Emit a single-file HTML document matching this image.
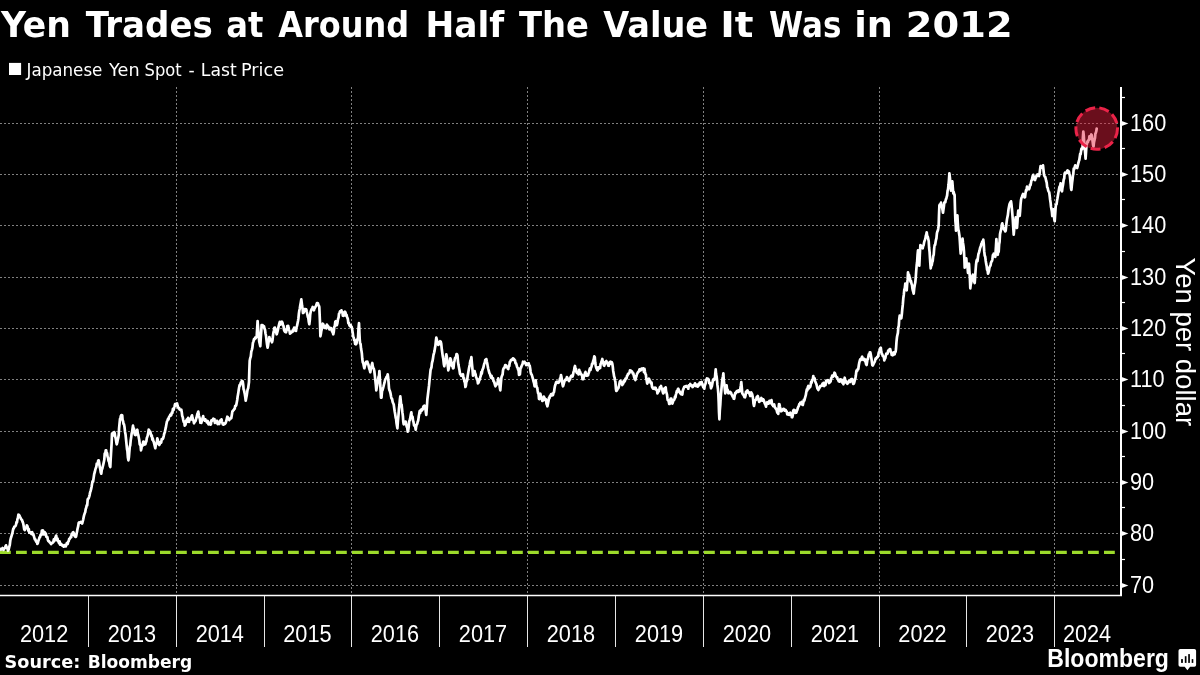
<!DOCTYPE html>
<html lang="en"><head><meta charset="utf-8"><title>Yen Trades at Around Half The Value It Was in 2012</title>
<style>
html,body{margin:0;padding:0;background:#000;}
body{width:1200px;height:675px;overflow:hidden;position:relative;}
svg{position:absolute;left:0;top:0;display:block;will-change:transform;}
.title{font-family:"DejaVu Sans","Liberation Sans",sans-serif;font-weight:bold;font-size:35.3px;fill:#fff;}
.legend{font-family:"DejaVu Sans","Liberation Sans",sans-serif;font-size:16.9px;fill:#fff;}
.num{font-family:"Liberation Sans",sans-serif;font-size:23px;fill:#fff;}
.ytitle{font-family:"Liberation Sans",sans-serif;font-size:27.9px;fill:#fff;}
.src{font-family:"DejaVu Sans","Liberation Sans",sans-serif;font-weight:bold;font-size:17.3px;fill:#fff;}
.logo{font-family:"Liberation Sans",sans-serif;font-weight:bold;font-size:25px;fill:#fff;}
</style></head><body>
<svg width="1200" height="675" viewBox="0 0 1200 675">
<rect x="0" y="0" width="1200" height="675" fill="#000"/>
<text class="title" y="36.9"><tspan x="0.91" textLength="69.97" lengthAdjust="spacingAndGlyphs">Yen</tspan> <tspan x="85.73" textLength="127.19" lengthAdjust="spacingAndGlyphs">Trades</tspan> <tspan x="226.32" textLength="37.12" lengthAdjust="spacingAndGlyphs">at</tspan> <tspan x="278.24" textLength="130.84" lengthAdjust="spacingAndGlyphs">Around</tspan> <tspan x="425.54" textLength="78.74" lengthAdjust="spacingAndGlyphs">Half</tspan> <tspan x="518.93" textLength="70.00" lengthAdjust="spacingAndGlyphs">The</tspan> <tspan x="603.13" textLength="104.98" lengthAdjust="spacingAndGlyphs">Value</tspan> <tspan x="720.29" textLength="33.33" lengthAdjust="spacingAndGlyphs">It</tspan> <tspan x="768.97" textLength="72.40" lengthAdjust="spacingAndGlyphs">Was</tspan> <tspan x="854.32" textLength="38.62" lengthAdjust="spacingAndGlyphs">in</tspan> <tspan x="905.87" textLength="106.78" lengthAdjust="spacingAndGlyphs">2012</tspan></text>
<rect x="9" y="62.9" width="12.1" height="12.1" fill="#fff"/>
<text class="legend" y="75.75"><tspan x="26.47" textLength="75.93" lengthAdjust="spacingAndGlyphs">Japanese</tspan> <tspan x="109.14" textLength="30.47" lengthAdjust="spacingAndGlyphs">Yen</tspan> <tspan x="144.52" textLength="37.13" lengthAdjust="spacingAndGlyphs">Spot</tspan> <tspan x="188.49" textLength="6.17" lengthAdjust="spacingAndGlyphs">-</tspan> <tspan x="200.81" textLength="35.85" lengthAdjust="spacingAndGlyphs">Last</tspan> <tspan x="241.02" textLength="43.02" lengthAdjust="spacingAndGlyphs">Price</tspan></text>
<g stroke="#808080" stroke-width="1" stroke-dasharray="2 2" fill="none" shape-rendering="crispEdges">
<line x1="0" y1="123.5" x2="1121" y2="123.5"/>
<line x1="0" y1="174.5" x2="1121" y2="174.5"/>
<line x1="0" y1="225.5" x2="1121" y2="225.5"/>
<line x1="0" y1="277.5" x2="1121" y2="277.5"/>
<line x1="0" y1="328.5" x2="1121" y2="328.5"/>
<line x1="0" y1="379.5" x2="1121" y2="379.5"/>
<line x1="0" y1="431.5" x2="1121" y2="431.5"/>
<line x1="0" y1="482.5" x2="1121" y2="482.5"/>
<line x1="0" y1="533.5" x2="1121" y2="533.5"/>
<line x1="0" y1="585.5" x2="1121" y2="585.5"/>
<line x1="176.5" y1="87" x2="176.5" y2="595.5"/>
<line x1="351.5" y1="87" x2="351.5" y2="595.5"/>
<line x1="527.5" y1="87" x2="527.5" y2="595.5"/>
<line x1="703.5" y1="87" x2="703.5" y2="595.5"/>
<line x1="879.5" y1="87" x2="879.5" y2="595.5"/>
<line x1="1054.5" y1="87" x2="1054.5" y2="595.5"/>
</g>
<line x1="0" y1="552.3" x2="1121" y2="552.3" stroke="#9cda2b" stroke-width="3.2" stroke-dasharray="10.8 5.2"/>
<path d="M0.0,549.3 L0.5,549.0 L1.0,549.7 L1.5,548.8 L2.0,548.7 L2.5,548.0 L3.0,548.6 L3.5,549.9 L4.0,548.7 L4.5,548.3 L5.0,548.0 L5.5,546.4 L6.0,545.3 L6.5,547.0 L7.0,548.2 L7.5,547.7 L8.0,550.7 L8.4,550.2 L8.9,548.5 L9.3,546.7 L9.8,544.9 L10.3,540.5 L10.8,538.2 L11.3,536.8 L11.8,535.0 L12.3,533.5 L12.8,530.9 L13.3,528.7 L13.8,528.4 L14.4,526.5 L14.9,526.6 L15.5,525.9 L16.0,524.7 L16.5,522.0 L17.0,522.4 L17.4,519.3 L17.9,517.9 L18.4,514.7 L18.9,514.8 L19.4,515.5 L19.9,516.6 L20.5,517.6 L21.0,519.1 L21.5,519.5 L22.0,520.0 L22.5,521.6 L23.1,523.0 L23.6,525.5 L24.2,529.2 L24.7,530.0 L25.2,528.4 L25.7,528.6 L26.3,528.0 L26.8,525.3 L27.3,526.0 L27.8,527.7 L28.3,530.7 L28.8,529.0 L29.3,532.7 L29.8,532.5 L30.3,532.9 L30.8,532.4 L31.3,533.8 L31.8,533.5 L32.3,532.2 L32.8,534.7 L33.3,534.0 L33.8,536.0 L34.3,537.6 L34.8,539.4 L35.3,539.3 L35.8,540.8 L36.3,541.8 L36.8,541.5 L37.3,544.0 L37.8,543.3 L38.4,540.7 L38.9,539.5 L39.5,537.4 L40.0,537.3 L40.5,535.1 L41.0,534.4 L41.4,535.0 L41.9,530.5 L42.4,531.3 L42.9,530.4 L43.4,532.7 L43.8,534.4 L44.3,534.1 L44.8,532.2 L45.3,534.7 L45.8,533.4 L46.3,536.8 L46.9,536.6 L47.4,537.1 L47.9,540.1 L48.4,541.1 L49.0,541.1 L49.5,542.1 L50.0,542.7 L50.5,543.0 L51.1,544.1 L51.6,543.0 L52.2,542.8 L52.8,542.7 L53.3,542.0 L53.8,539.4 L54.3,541.2 L54.7,539.8 L55.2,538.3 L55.7,536.7 L56.2,535.6 L56.6,537.9 L57.1,540.3 L57.5,538.6 L58.0,541.3 L58.5,541.6 L59.0,543.2 L59.6,541.3 L60.1,544.7 L60.6,544.1 L61.1,543.8 L61.7,544.7 L62.2,545.5 L62.7,545.3 L63.2,545.6 L63.7,546.7 L64.3,545.1 L64.8,545.4 L65.3,546.0 L65.8,546.4 L66.3,544.7 L66.8,543.1 L67.2,544.3 L67.7,544.1 L68.2,541.5 L68.7,541.3 L69.2,538.8 L69.7,539.0 L70.2,537.9 L70.7,536.7 L71.2,537.3 L71.7,533.8 L72.2,535.0 L72.7,532.7 L73.2,532.1 L73.8,533.2 L74.3,535.3 L74.9,536.5 L75.5,536.9 L76.0,536.7 L76.5,534.2 L77.1,531.2 L77.6,528.5 L78.2,526.1 L78.7,522.7 L79.2,522.3 L79.7,522.6 L80.2,522.7 L80.7,522.0 L81.2,522.6 L81.7,522.2 L82.2,523.5 L82.7,521.3 L83.2,519.6 L83.7,516.9 L84.2,514.9 L84.7,513.3 L85.2,512.2 L85.7,509.0 L86.2,507.7 L86.7,505.3 L87.2,505.3 L87.7,499.4 L88.2,498.7 L88.7,498.2 L89.2,496.6 L89.7,494.6 L90.2,492.1 L90.7,490.7 L91.1,489.2 L91.6,486.7 L92.0,484.3 L92.5,481.3 L93.1,481.6 L93.7,477.4 L94.2,474.0 L94.8,472.0 L95.3,469.7 L95.8,468.1 L96.3,467.0 L96.8,463.5 L97.2,463.8 L97.7,464.0 L98.2,460.5 L98.7,460.3 L99.2,462.9 L99.7,466.6 L100.3,469.2 L100.8,472.5 L101.3,473.7 L101.8,469.6 L102.3,468.6 L102.8,466.3 L103.3,464.3 L103.8,462.1 L104.3,459.8 L104.7,453.7 L105.2,454.2 L105.7,450.3 L106.2,450.3 L106.6,453.9 L107.1,453.2 L107.5,456.4 L108.0,457.7 L108.5,460.8 L108.9,461.3 L109.4,463.5 L109.8,465.9 L110.3,467.0 L110.7,458.8 L111.2,450.3 L111.6,443.6 L112.0,433.7 L112.5,434.6 L113.1,433.1 L113.6,435.5 L114.2,432.0 L114.7,433.0 L115.2,436.7 L115.7,438.4 L116.2,441.6 L116.7,444.3 L117.2,442.7 L117.7,439.9 L118.2,438.0 L118.7,435.0 L119.1,428.1 L119.6,422.8 L120.0,419.0 L120.4,418.6 L120.8,416.0 L121.3,415.0 L121.7,415.0 L122.2,415.4 L122.6,420.0 L123.1,421.3 L123.5,423.9 L124.0,424.3 L124.5,427.0 L125.0,431.7 L125.5,434.2 L126.0,439.0 L126.5,444.0 L127.0,449.1 L127.4,450.9 L127.9,457.6 L128.4,460.3 L128.9,457.3 L129.3,452.1 L129.8,446.3 L130.2,445.7 L130.7,440.3 L131.2,437.3 L131.6,433.9 L132.1,431.9 L132.5,429.0 L133.0,425.7 L133.5,429.1 L133.9,428.4 L134.4,432.4 L134.8,434.6 L135.3,435.0 L135.8,435.1 L136.3,432.2 L136.8,430.3 L137.3,429.7 L137.8,433.4 L138.3,435.1 L138.8,437.8 L139.3,440.3 L139.7,444.2 L140.2,445.0 L140.6,445.6 L141.0,450.3 L141.5,448.2 L141.9,445.0 L142.4,446.0 L142.8,443.7 L143.3,441.7 L143.8,441.7 L144.3,443.0 L144.8,444.5 L145.3,444.3 L145.8,442.3 L146.3,441.5 L146.8,438.0 L147.2,437.0 L147.7,435.4 L148.2,433.4 L148.7,429.7 L149.2,430.3 L149.7,433.2 L150.3,431.8 L150.8,433.9 L151.3,436.3 L151.8,435.4 L152.3,439.5 L152.7,438.3 L153.2,440.6 L153.7,441.7 L154.2,443.7 L154.8,446.1 L155.3,448.3 L155.8,445.2 L156.3,443.5 L156.8,442.6 L157.3,438.3 L157.8,440.0 L158.3,442.2 L158.8,444.3 L159.3,445.0 L159.8,443.9 L160.3,442.0 L160.8,441.9 L161.2,442.6 L161.7,439.1 L162.2,439.3 L162.7,439.0 L163.2,438.1 L163.7,436.1 L164.3,433.4 L164.8,432.4 L165.3,429.7 L165.8,427.7 L166.4,424.2 L166.9,421.7 L167.5,420.5 L168.0,419.0 L168.5,419.4 L168.9,417.3 L169.4,416.4 L169.9,415.9 L170.4,414.6 L170.8,415.5 L171.3,415.0 L171.8,412.5 L172.4,412.7 L172.9,408.8 L173.5,410.0 L174.0,408.3 L174.5,406.6 L175.0,404.2 L175.5,405.8 L176.0,404.0 L176.5,404.6 L177.1,403.5 L177.6,405.7 L178.2,407.7 L178.7,408.3 L179.2,408.1 L179.7,409.6 L180.3,409.9 L180.8,410.1 L181.3,409.7 L181.8,412.5 L182.2,415.9 L182.7,417.0 L183.2,419.8 L183.7,421.8 L184.2,421.4 L184.7,425.7 L185.2,425.1 L185.7,424.0 L186.2,420.9 L186.7,419.7 L187.2,419.2 L187.6,421.6 L188.1,417.9 L188.6,420.2 L189.1,421.9 L189.5,418.8 L190.0,419.7 L190.5,419.3 L191.0,419.4 L191.5,416.3 L192.0,415.3 L192.5,417.9 L193.0,420.2 L193.5,420.4 L194.0,423.3 L194.5,422.2 L195.0,421.6 L195.5,421.1 L196.0,419.3 L196.5,417.7 L196.9,416.0 L197.4,413.7 L197.8,412.8 L198.3,411.6 L198.8,415.3 L199.4,417.3 L199.9,419.1 L200.4,422.7 L200.9,420.9 L201.3,423.0 L201.8,421.0 L202.2,419.6 L202.7,418.0 L203.2,416.1 L203.7,419.1 L204.3,419.3 L204.8,420.7 L205.3,419.3 L205.8,420.6 L206.3,420.9 L206.8,422.4 L207.3,422.7 L207.8,421.0 L208.4,424.3 L208.9,423.8 L209.5,423.0 L210.0,424.0 L210.5,424.6 L210.9,424.3 L211.4,420.3 L211.9,420.3 L212.4,420.5 L212.8,419.6 L213.3,418.7 L213.8,419.0 L214.4,419.0 L214.9,422.8 L215.5,422.4 L216.0,422.0 L216.5,420.9 L217.1,420.9 L217.6,424.1 L218.2,423.5 L218.7,422.7 L219.2,424.1 L219.6,422.7 L220.1,420.6 L220.5,421.4 L221.0,420.7 L221.5,419.3 L221.9,421.6 L222.4,423.0 L222.8,424.4 L223.3,424.7 L223.8,423.6 L224.3,423.8 L224.7,424.0 L225.2,423.5 L225.7,422.7 L226.2,421.3 L226.8,418.9 L227.3,416.7 L227.8,417.2 L228.3,419.1 L228.8,419.2 L229.3,420.0 L229.8,418.7 L230.3,418.4 L230.8,418.5 L231.3,418.0 L231.9,414.5 L232.4,411.3 L232.9,410.9 L233.3,410.3 L233.8,409.9 L234.2,409.1 L234.7,408.7 L235.2,405.9 L235.7,406.1 L236.2,405.3 L236.7,402.7 L237.2,400.0 L237.7,396.2 L238.2,393.6 L238.7,390.0 L239.1,387.5 L239.6,385.1 L240.0,385.6 L240.4,384.0 L240.9,382.4 L241.4,383.4 L241.8,380.9 L242.3,381.3 L242.7,381.3 L243.2,384.6 L243.6,389.4 L244.0,390.0 L244.4,392.3 L244.8,394.0 L245.3,397.3 L245.7,400.7 L246.2,398.1 L246.8,394.9 L247.3,391.3 L247.7,389.2 L248.2,388.1 L248.6,385.0 L249.0,382.0 L249.3,371.3 L249.7,360.7 L250.2,358.3 L250.8,356.4 L251.3,351.7 L251.8,350.1 L252.4,347.6 L252.9,343.0 L253.5,341.4 L254.0,339.0 L254.5,339.2 L255.1,337.6 L255.6,338.4 L256.2,337.4 L256.7,336.3 L257.1,329.6 L257.6,321.0 L258.1,328.1 L258.7,335.7 L259.2,341.4 L259.8,344.0 L260.3,346.3 L260.7,339.0 L261.2,332.2 L261.6,325.0 L262.1,327.5 L262.6,325.2 L263.0,326.7 L263.5,327.0 L264.0,326.3 L264.5,328.7 L265.0,329.8 L265.5,333.5 L266.0,335.7 L266.5,340.1 L267.1,344.8 L267.6,347.7 L268.0,345.8 L268.5,342.4 L268.9,340.5 L269.3,337.0 L269.8,338.6 L270.4,339.3 L270.9,340.2 L271.5,341.0 L272.0,342.3 L272.5,340.1 L273.0,335.4 L273.4,332.9 L273.9,330.6 L274.4,327.7 L274.9,327.6 L275.3,329.9 L275.8,329.7 L276.2,332.3 L276.7,334.3 L277.2,332.7 L277.7,330.6 L278.3,327.9 L278.8,325.6 L279.3,323.7 L279.8,321.9 L280.4,324.7 L280.9,323.0 L281.5,323.2 L282.0,321.7 L282.5,322.8 L283.0,325.5 L283.5,325.9 L284.0,329.7 L284.5,331.1 L285.0,331.9 L285.5,329.8 L286.0,332.3 L286.4,330.7 L286.9,329.9 L287.3,326.0 L287.7,326.3 L288.2,326.0 L288.6,328.2 L289.1,330.1 L289.5,330.8 L290.0,333.7 L290.5,333.1 L291.1,332.6 L291.6,332.3 L292.2,331.7 L292.7,330.3 L293.2,331.3 L293.7,330.5 L294.2,327.5 L294.7,328.3 L295.1,328.7 L295.6,329.0 L296.0,331.0 L296.5,327.4 L297.0,325.9 L297.5,323.5 L298.0,321.0 L298.4,318.5 L298.9,313.4 L299.3,310.8 L299.7,309.0 L300.2,305.8 L300.8,302.4 L301.3,299.4 L301.7,302.5 L302.1,306.1 L302.6,308.8 L303.0,313.0 L303.5,312.9 L303.9,311.8 L304.4,310.5 L304.8,309.1 L305.3,309.0 L305.8,310.2 L306.3,309.4 L306.8,312.0 L307.3,314.3 L307.8,316.8 L308.3,317.8 L308.8,322.0 L309.3,324.3 L309.8,320.2 L310.2,314.5 L310.7,311.7 L311.2,310.3 L311.7,309.0 L312.2,308.6 L312.7,307.0 L313.1,308.7 L313.6,309.2 L314.0,310.3 L314.5,308.2 L315.0,307.7 L315.5,306.6 L316.0,306.2 L316.5,304.5 L317.0,303.0 L317.5,303.1 L317.9,303.2 L318.4,305.0 L318.8,305.5 L319.3,307.0 L319.9,320.5 L320.4,336.3 L320.9,333.7 L321.3,330.8 L321.8,328.8 L322.2,326.7 L322.7,323.7 L323.2,324.1 L323.7,327.5 L324.3,325.8 L324.8,328.0 L325.3,327.7 L325.8,327.5 L326.4,328.3 L326.9,324.7 L327.5,325.8 L328.0,326.3 L328.5,326.8 L328.9,327.5 L329.4,329.4 L329.9,327.8 L330.4,329.0 L330.8,328.8 L331.3,328.3 L331.8,330.7 L332.3,331.8 L332.8,332.6 L333.3,334.3 L333.8,331.7 L334.3,326.9 L334.8,326.0 L335.3,321.7 L335.8,321.2 L336.3,322.9 L336.8,325.3 L337.3,323.7 L337.7,321.0 L338.1,318.7 L338.6,317.4 L339.0,313.7 L339.5,313.0 L340.0,311.5 L340.4,311.9 L340.9,311.6 L341.4,310.3 L341.9,312.2 L342.4,311.9 L342.8,315.6 L343.3,315.0 L343.7,315.8 L344.1,313.4 L344.6,312.8 L345.0,311.7 L345.5,312.6 L346.1,315.8 L346.6,315.0 L347.2,317.7 L347.7,318.3 L348.0,320.2 L348.3,323.0 L348.8,322.9 L349.3,324.9 L349.8,326.0 L350.2,325.3 L350.7,325.2 L351.2,327.2 L351.7,327.0 L352.2,329.6 L352.7,332.7 L353.2,336.5 L353.7,337.7 L354.2,340.2 L354.6,339.8 L355.1,343.9 L355.5,343.0 L356.0,344.3 L356.5,343.4 L357.0,340.4 L357.5,339.3 L358.0,337.7 L358.5,328.6 L359.0,323.0 L359.4,332.8 L359.7,339.0 L360.1,343.5 L360.6,344.0 L361.0,348.3 L361.4,350.4 L361.9,353.8 L362.3,359.0 L362.8,362.5 L363.3,363.2 L363.8,365.9 L364.3,368.3 L364.8,366.3 L365.3,364.9 L365.8,362.3 L366.3,361.7 L366.8,362.4 L367.3,361.6 L367.8,363.6 L368.3,364.3 L368.8,366.6 L369.3,368.8 L369.8,370.1 L370.3,372.3 L370.8,369.1 L371.3,367.8 L371.8,364.8 L372.3,363.0 L372.8,366.6 L373.3,367.8 L373.8,368.9 L374.3,371.0 L374.8,375.4 L375.3,379.9 L375.8,384.5 L376.3,390.3 L376.8,387.1 L377.2,384.9 L377.7,381.7 L378.1,379.5 L378.5,376.9 L379.0,375.8 L379.4,371.0 L379.9,379.2 L380.5,388.8 L381.0,397.7 L381.5,397.6 L382.0,391.1 L382.5,390.1 L383.0,388.3 L383.5,386.5 L384.0,384.5 L384.5,382.7 L385.0,380.3 L385.5,378.9 L386.1,378.3 L386.6,376.8 L387.2,376.3 L387.7,374.3 L388.1,377.1 L388.6,382.7 L389.0,388.3 L389.5,390.3 L390.0,391.3 L390.5,393.3 L391.0,396.3 L391.5,398.5 L392.1,398.9 L392.6,401.7 L393.2,403.4 L393.7,404.3 L394.2,408.0 L394.7,411.5 L395.2,414.2 L395.7,417.7 L396.1,418.9 L396.5,423.0 L397.0,426.1 L397.4,428.3 L397.9,421.1 L398.5,414.9 L399.0,408.3 L399.4,405.0 L399.9,399.4 L400.3,396.3 L400.7,399.9 L401.1,404.2 L401.6,404.7 L402.0,408.3 L402.4,412.4 L402.9,416.1 L403.3,421.8 L403.7,424.3 L404.2,424.0 L404.7,423.9 L405.2,421.7 L405.7,421.7 L406.2,424.2 L406.7,426.7 L407.2,427.4 L407.7,431.7 L408.2,430.3 L408.7,426.9 L409.2,421.4 L409.7,420.3 L410.2,418.4 L410.8,414.8 L411.3,412.3 L411.7,414.7 L412.1,416.7 L412.6,416.8 L413.0,420.3 L413.5,422.0 L414.1,425.6 L414.6,425.4 L415.2,426.8 L415.7,429.7 L416.2,426.3 L416.7,424.5 L417.2,424.0 L417.7,421.7 L418.2,420.7 L418.7,416.8 L419.2,413.9 L419.7,411.0 L420.2,412.9 L420.7,410.0 L421.3,409.5 L421.8,410.5 L422.3,409.7 L422.8,409.4 L423.2,407.1 L423.7,406.1 L424.1,406.8 L424.6,405.7 L425.0,408.3 L425.5,409.0 L425.9,412.5 L426.3,415.0 L426.9,406.5 L427.4,399.0 L427.9,395.0 L428.5,390.0 L429.0,385.7 L429.5,380.3 L430.1,374.7 L430.6,369.7 L431.0,368.8 L431.5,367.1 L431.9,363.3 L432.3,361.7 L432.6,360.8 L433.0,358.3 L433.5,354.9 L434.0,353.1 L434.5,351.1 L435.0,347.7 L435.4,345.9 L435.9,340.7 L436.3,337.7 L436.8,339.5 L437.3,341.5 L437.8,341.7 L438.3,345.0 L438.8,344.4 L439.3,343.0 L439.7,343.4 L440.2,341.2 L440.7,341.7 L441.2,343.5 L441.8,349.3 L442.3,353.0 L442.8,356.6 L443.3,359.1 L443.8,363.9 L444.3,366.3 L444.8,363.0 L445.3,359.7 L445.8,357.8 L446.3,354.3 L446.8,356.7 L447.3,361.6 L447.8,366.3 L448.3,370.3 L448.8,368.1 L449.3,364.1 L449.8,361.6 L450.3,358.3 L450.8,359.6 L451.4,362.6 L451.9,366.0 L452.5,365.6 L453.0,368.3 L453.5,368.0 L454.0,362.7 L454.5,360.8 L455.0,358.3 L455.5,357.5 L456.0,357.3 L456.5,354.1 L457.0,354.3 L457.5,355.5 L458.0,361.6 L458.5,365.1 L459.0,367.7 L459.5,370.3 L460.0,373.9 L460.5,373.9 L461.0,375.7 L461.5,375.6 L462.0,375.9 L462.5,375.0 L463.0,374.3 L463.5,378.5 L464.0,378.1 L464.4,381.5 L464.9,382.3 L465.4,387.0 L465.9,385.6 L466.3,382.1 L466.8,381.1 L467.2,380.1 L467.7,375.7 L468.2,373.0 L468.7,370.1 L469.2,367.2 L469.7,365.0 L470.1,362.2 L470.5,360.4 L471.0,359.6 L471.4,357.0 L471.9,363.3 L472.5,369.5 L473.0,375.7 L473.5,374.0 L474.1,373.5 L474.6,371.0 L475.1,373.2 L475.6,374.3 L476.0,376.9 L476.5,377.8 L477.0,379.7 L477.4,379.6 L477.9,383.4 L478.3,383.0 L478.8,382.0 L479.3,379.0 L479.8,379.6 L480.3,377.0 L480.8,375.7 L481.3,372.1 L481.8,373.6 L482.3,370.3 L482.8,369.0 L483.3,367.9 L483.8,365.5 L484.3,363.7 L484.8,362.4 L485.3,359.8 L485.8,361.1 L486.3,359.0 L486.8,361.5 L487.3,363.7 L487.8,366.9 L488.3,369.0 L488.8,370.8 L489.4,373.2 L489.9,373.8 L490.5,375.9 L491.0,377.7 L491.5,375.7 L492.0,377.6 L492.5,378.8 L493.0,378.3 L493.5,381.3 L494.0,381.3 L494.5,383.2 L495.0,385.0 L495.5,386.3 L496.0,384.0 L496.5,384.8 L497.0,383.7 L497.4,383.6 L497.9,380.1 L498.3,378.3 L498.8,382.5 L499.3,383.6 L499.8,387.5 L500.3,390.3 L500.8,384.2 L501.3,378.3 L501.7,376.4 L502.1,375.4 L502.6,374.5 L503.0,370.3 L503.5,368.6 L504.1,367.6 L504.6,367.6 L505.2,365.0 L505.7,365.0 L506.2,366.3 L506.7,367.2 L507.3,367.1 L507.8,368.7 L508.3,369.0 L508.8,365.6 L509.3,366.1 L509.8,362.0 L510.3,361.7 L510.8,360.3 L511.4,359.8 L511.9,359.3 L512.5,359.8 L513.0,358.3 L513.5,358.9 L514.0,358.9 L514.5,360.3 L515.0,360.3 L515.5,363.4 L516.1,363.3 L516.6,365.1 L517.2,367.5 L517.7,367.7 L518.1,369.6 L518.5,369.7 L519.0,374.8 L519.4,374.3 L519.9,374.3 L520.5,367.9 L521.0,367.7 L521.5,366.2 L522.0,365.1 L522.5,364.2 L523.0,361.7 L523.5,362.8 L524.1,362.2 L524.6,361.8 L525.2,363.4 L525.7,363.7 L526.2,365.1 L526.7,363.3 L527.2,363.6 L527.7,365.0 L528.2,365.2 L528.7,363.4 L529.2,365.3 L529.7,365.7 L530.1,367.9 L530.6,371.5 L531.0,373.7 L531.5,374.3 L532.0,375.5 L532.5,377.3 L533.0,379.0 L533.5,381.4 L534.1,383.2 L534.6,386.3 L535.0,384.3 L535.3,383.1 L535.7,380.3 L536.2,384.2 L536.7,387.4 L537.2,387.5 L537.7,391.0 L538.1,393.2 L538.6,394.1 L539.0,399.0 L539.4,399.1 L539.9,394.7 L540.3,393.7 L540.8,395.5 L541.3,397.9 L541.8,397.8 L542.3,401.0 L542.8,400.6 L543.3,399.3 L543.8,396.7 L544.3,397.7 L544.8,398.7 L545.2,400.2 L545.7,399.7 L546.1,399.5 L546.5,403.8 L547.0,404.9 L547.4,406.3 L547.9,403.9 L548.5,401.0 L549.0,397.7 L549.5,398.2 L550.0,395.8 L550.5,396.0 L551.0,394.3 L551.5,394.1 L552.0,395.4 L552.5,394.0 L553.0,395.0 L553.5,392.6 L554.0,392.1 L554.5,388.5 L555.0,385.7 L555.5,384.5 L556.0,382.6 L556.5,381.9 L557.0,381.7 L557.5,382.0 L558.0,382.9 L558.5,382.6 L559.0,382.3 L559.5,381.0 L560.0,378.6 L560.5,378.2 L561.0,375.0 L561.5,377.4 L562.0,380.1 L562.5,384.4 L563.0,386.3 L563.5,384.9 L564.0,383.0 L564.5,381.2 L565.0,380.3 L565.5,379.5 L566.0,379.9 L566.4,379.1 L566.9,377.0 L567.4,377.7 L567.9,379.2 L568.5,380.1 L569.0,381.0 L569.5,378.8 L570.0,379.4 L570.5,377.2 L571.0,376.3 L571.5,375.6 L572.0,376.4 L572.5,376.6 L573.0,375.0 L573.5,372.1 L574.0,370.9 L574.5,367.4 L575.0,366.0 L575.5,369.9 L576.0,369.0 L576.5,372.4 L577.0,373.0 L577.5,372.1 L578.1,373.3 L578.6,374.4 L579.2,369.8 L579.7,371.7 L580.2,372.1 L580.7,373.9 L581.2,374.1 L581.7,375.0 L582.1,375.3 L582.5,379.2 L583.0,378.1 L583.4,379.0 L583.9,375.4 L584.5,375.9 L585.0,373.0 L585.5,372.0 L586.0,375.5 L586.5,374.4 L587.0,375.7 L587.5,375.0 L588.0,375.3 L588.5,373.3 L589.0,372.3 L589.5,369.8 L590.0,368.3 L590.5,370.0 L591.0,367.7 L591.5,366.9 L592.0,363.9 L592.5,364.1 L593.0,361.7 L593.4,360.4 L593.9,358.7 L594.3,356.3 L594.8,357.2 L595.2,362.3 L595.7,365.7 L596.2,367.8 L596.7,368.7 L597.2,370.0 L597.7,370.3 L598.2,367.3 L598.7,368.8 L599.2,368.3 L599.7,367.0 L600.1,368.1 L600.6,363.8 L601.0,363.7 L601.4,361.8 L601.9,360.6 L602.3,359.0 L602.8,361.6 L603.3,361.9 L603.8,365.2 L604.3,365.7 L604.8,363.7 L605.3,363.6 L605.8,361.6 L606.3,361.0 L606.8,362.3 L607.3,362.7 L607.8,362.9 L608.3,365.7 L608.8,365.8 L609.3,364.0 L609.8,362.1 L610.3,361.7 L610.8,362.4 L611.3,363.7 L611.8,362.2 L612.3,363.7 L612.8,366.9 L613.2,370.9 L613.7,373.7 L614.1,376.4 L614.6,377.8 L615.0,380.3 L615.4,381.8 L615.9,388.7 L616.3,391.0 L616.8,390.7 L617.3,389.7 L617.8,388.7 L618.3,388.3 L618.8,386.7 L619.3,384.2 L619.8,381.8 L620.3,381.0 L620.8,381.3 L621.3,382.4 L621.8,383.4 L622.3,385.0 L622.8,382.8 L623.3,383.6 L623.8,380.7 L624.3,381.0 L624.6,381.5 L625.0,380.7 L625.5,378.5 L626.0,378.7 L626.5,378.5 L627.0,376.0 L627.5,375.5 L628.0,373.9 L628.5,374.0 L629.0,373.3 L629.5,372.8 L630.0,370.3 L630.5,370.7 L631.0,370.7 L631.5,371.4 L631.9,371.3 L632.4,372.3 L632.8,373.5 L633.3,373.3 L633.8,375.7 L634.3,377.6 L634.9,378.9 L635.4,380.0 L635.9,377.7 L636.5,376.0 L637.0,374.0 L637.5,373.1 L638.0,372.3 L638.5,371.8 L639.0,371.3 L639.5,369.3 L640.0,370.3 L640.5,370.3 L641.0,370.0 L641.5,368.6 L642.0,369.1 L642.5,369.2 L643.0,368.3 L643.5,369.1 L644.0,372.2 L644.5,368.9 L645.0,372.0 L645.4,374.0 L645.9,374.6 L646.3,378.7 L646.8,381.0 L647.2,383.6 L647.7,382.7 L648.1,379.2 L648.6,380.2 L649.0,378.7 L649.5,380.4 L650.0,380.7 L650.5,382.7 L651.0,383.3 L651.5,382.4 L652.0,386.9 L652.5,387.7 L653.0,388.7 L653.5,388.6 L654.1,387.8 L654.6,388.9 L655.2,387.7 L655.7,388.0 L656.1,389.5 L656.5,390.1 L657.0,389.8 L657.4,393.3 L657.9,392.3 L658.4,391.5 L658.9,391.1 L659.4,389.3 L659.9,387.3 L660.5,387.1 L661.0,386.0 L661.5,388.0 L662.1,388.8 L662.6,391.3 L663.2,393.4 L663.7,392.7 L664.2,390.4 L664.7,388.1 L665.2,389.5 L665.7,387.3 L666.1,391.3 L666.6,393.2 L667.0,394.7 L667.4,398.2 L667.7,400.0 L668.2,400.4 L668.7,401.3 L669.2,403.9 L669.7,404.0 L670.1,401.3 L670.6,398.7 L671.0,398.7 L671.4,398.7 L671.9,402.9 L672.3,403.6 L672.7,402.7 L673.2,401.0 L673.7,400.0 L674.1,399.9 L674.6,398.7 L675.0,396.6 L675.5,397.3 L675.9,394.6 L676.3,393.3 L676.8,391.1 L677.3,392.3 L677.8,389.3 L678.3,388.7 L678.8,390.1 L679.3,391.0 L679.8,391.8 L680.3,393.3 L680.8,394.0 L681.3,393.3 L681.8,392.5 L682.3,394.7 L682.8,390.5 L683.3,389.4 L683.8,387.9 L684.3,386.7 L684.8,386.5 L685.3,386.4 L685.8,386.7 L686.3,386.0 L686.8,386.8 L687.3,386.6 L687.8,387.3 L688.3,388.7 L688.8,385.4 L689.3,386.2 L689.8,385.7 L690.3,384.0 L690.8,385.1 L691.4,385.0 L691.9,385.4 L692.5,387.1 L693.0,386.7 L693.5,385.9 L694.0,385.7 L694.5,384.7 L695.0,383.3 L695.5,384.2 L696.1,386.0 L696.6,384.8 L697.2,385.7 L697.7,386.7 L698.2,384.9 L698.7,383.9 L699.2,385.3 L699.7,382.7 L700.2,384.3 L700.7,382.4 L701.2,382.7 L701.7,382.0 L702.2,384.5 L702.7,385.5 L703.3,387.2 L703.8,386.1 L704.3,388.7 L704.7,385.9 L705.1,384.8 L705.6,383.6 L706.0,380.0 L706.4,379.8 L706.9,378.5 L707.3,378.7 L707.7,378.7 L708.2,379.0 L708.7,379.8 L709.2,383.2 L709.7,382.7 L710.1,383.2 L710.5,385.0 L711.0,388.3 L711.4,387.3 L711.9,386.1 L712.5,382.8 L713.0,380.0 L713.5,379.2 L714.1,379.9 L714.6,379.3 L715.0,377.6 L715.3,373.3 L715.7,369.3 L716.1,374.1 L716.6,376.5 L717.0,380.0 L717.4,384.9 L717.9,388.7 L718.3,393.3 L718.7,402.4 L719.0,411.9 L719.4,419.3 L719.8,410.5 L720.3,404.6 L720.7,397.3 L721.2,391.8 L721.8,385.2 L722.3,380.0 L722.7,377.5 L723.0,376.3 L723.4,373.3 L723.8,380.7 L724.3,384.0 L724.8,389.3 L725.3,393.3 L725.7,391.0 L726.2,386.4 L726.6,385.3 L727.0,389.2 L727.5,389.4 L727.9,391.3 L728.3,393.3 L728.8,392.1 L729.4,393.0 L729.9,391.8 L730.5,392.9 L731.0,392.7 L731.5,394.4 L732.1,395.1 L732.6,396.6 L733.2,396.6 L733.7,398.7 L734.2,398.8 L734.7,395.4 L735.3,392.9 L735.8,393.2 L736.3,392.0 L736.8,391.1 L737.3,390.8 L737.8,391.3 L738.2,391.9 L738.7,390.3 L739.2,391.3 L739.7,391.3 L740.2,389.6 L740.8,385.8 L741.3,382.0 L741.8,387.5 L742.3,393.3 L742.8,394.2 L743.4,394.8 L743.9,395.7 L744.5,397.2 L745.0,397.3 L745.5,395.6 L746.0,391.8 L746.5,392.3 L747.0,390.7 L747.5,390.5 L748.1,392.7 L748.6,392.1 L749.2,393.5 L749.7,394.0 L750.2,396.0 L750.7,392.6 L751.2,392.4 L751.7,393.3 L752.2,394.4 L752.6,396.2 L753.1,399.0 L753.5,403.8 L754.0,406.0 L754.4,403.9 L754.9,401.1 L755.3,400.0 L755.7,400.0 L756.2,399.6 L756.7,397.2 L757.2,396.6 L757.7,396.0 L758.2,397.7 L758.7,400.0 L759.2,401.9 L759.7,401.3 L760.2,401.2 L760.8,399.2 L761.3,398.0 L761.8,398.6 L762.3,400.6 L762.7,400.6 L763.2,399.3 L763.7,400.0 L764.2,401.8 L764.6,403.0 L765.1,404.1 L765.5,404.9 L766.0,406.7 L766.4,404.4 L766.9,404.2 L767.3,402.2 L767.7,402.7 L768.2,403.7 L768.8,402.8 L769.4,400.8 L769.9,403.2 L770.5,402.4 L771.0,401.3 L771.5,400.1 L772.1,404.5 L772.6,404.1 L773.2,406.1 L773.7,404.7 L774.2,404.4 L774.7,407.1 L775.3,407.9 L775.8,408.6 L776.3,409.3 L776.8,410.6 L777.3,412.7 L777.8,411.3 L778.3,414.0 L778.6,407.8 L779.0,404.0 L779.5,404.4 L780.0,407.1 L780.5,408.9 L781.0,411.3 L781.5,411.2 L782.0,410.6 L782.5,409.8 L783.0,409.3 L783.5,408.8 L784.1,409.1 L784.6,410.7 L785.2,410.6 L785.7,410.0 L786.2,411.0 L786.7,411.6 L787.3,414.4 L787.8,413.2 L788.3,414.7 L788.8,414.8 L789.3,414.9 L789.8,412.9 L790.3,412.7 L790.8,414.7 L791.3,413.9 L791.8,417.2 L792.3,417.3 L792.8,415.1 L793.2,410.8 L793.7,410.0 L794.2,411.2 L794.7,410.2 L795.3,412.9 L795.8,411.5 L796.3,412.7 L796.8,411.0 L797.3,410.0 L797.8,407.9 L798.3,406.7 L798.8,406.0 L799.3,404.1 L799.8,404.4 L800.3,402.7 L800.8,403.2 L801.3,403.9 L801.8,402.0 L802.3,404.7 L802.8,404.9 L803.3,402.7 L803.8,399.9 L804.3,400.7 L804.8,398.6 L805.3,396.8 L805.8,395.2 L806.3,392.0 L806.8,389.4 L807.3,390.5 L807.8,387.3 L808.3,386.0 L808.8,388.4 L809.3,386.2 L809.8,387.2 L810.3,386.7 L810.7,384.7 L811.1,382.2 L811.6,382.8 L812.0,380.0 L812.4,379.6 L812.9,378.9 L813.3,376.0 L813.7,378.2 L814.1,378.1 L814.6,378.3 L815.0,381.3 L815.5,382.0 L816.0,383.3 L816.5,384.5 L817.0,386.7 L817.4,388.4 L817.9,389.2 L818.3,390.0 L818.8,388.7 L819.3,388.2 L819.8,386.9 L820.3,386.0 L820.8,385.8 L821.4,386.0 L821.9,385.8 L822.5,383.7 L823.0,384.0 L823.5,382.8 L824.0,386.1 L824.5,385.1 L825.0,385.3 L825.5,385.2 L826.0,381.2 L826.5,381.2 L827.0,380.3 L827.5,381.0 L828.0,380.2 L828.5,381.8 L829.0,383.0 L829.5,382.7 L830.1,382.0 L830.6,381.4 L831.2,377.9 L831.7,377.7 L832.2,375.6 L832.8,376.8 L833.4,376.4 L833.9,375.0 L834.5,372.7 L835.0,373.3 L835.5,375.2 L836.1,376.4 L836.6,377.3 L837.2,377.4 L837.7,379.0 L838.2,380.0 L838.7,381.1 L839.2,380.5 L839.7,381.7 L840.2,379.4 L840.7,381.0 L841.2,380.7 L841.7,379.7 L842.1,380.9 L842.5,382.9 L843.0,382.6 L843.4,384.3 L843.8,382.0 L844.3,379.6 L844.7,377.7 L845.2,379.8 L845.8,382.4 L846.3,382.3 L846.8,381.8 L847.4,383.8 L847.9,383.0 L848.5,382.1 L849.0,381.0 L849.5,381.2 L850.1,382.0 L850.6,379.6 L851.2,379.3 L851.7,379.0 L852.2,379.1 L852.7,381.8 L853.2,383.9 L853.7,383.7 L854.1,382.9 L854.5,381.4 L855.0,379.4 L855.4,378.3 L855.8,375.8 L856.3,371.5 L856.7,370.3 L857.2,370.9 L857.8,369.0 L858.3,369.0 L858.8,365.2 L859.2,362.9 L859.7,361.0 L860.2,359.4 L860.7,360.2 L861.2,359.6 L861.7,357.7 L862.2,356.7 L862.7,359.4 L863.3,359.8 L863.8,358.7 L864.3,359.7 L864.8,359.3 L865.2,361.1 L865.7,362.2 L866.1,364.3 L866.6,365.0 L867.0,362.6 L867.5,359.0 L867.9,359.2 L868.3,357.0 L868.8,354.3 L869.3,355.6 L869.8,352.3 L870.3,352.3 L870.8,354.8 L871.3,357.8 L871.8,361.3 L872.3,365.0 L872.8,365.5 L873.4,364.3 L873.9,363.2 L874.5,362.1 L875.0,361.0 L875.5,358.7 L876.1,358.9 L876.6,358.0 L877.2,356.8 L877.7,357.0 L878.2,355.8 L878.7,352.8 L879.3,351.1 L879.8,349.0 L880.3,348.3 L880.8,347.7 L881.3,351.9 L881.8,354.1 L882.3,354.3 L882.8,356.0 L883.3,356.3 L883.8,356.6 L884.3,360.3 L884.8,358.8 L885.3,358.2 L885.8,355.6 L886.3,353.7 L886.8,354.0 L887.3,353.8 L887.8,352.8 L888.2,350.6 L888.7,351.4 L889.2,350.4 L889.7,349.0 L890.2,349.0 L890.7,351.6 L891.2,352.1 L891.7,355.0 L892.2,354.8 L892.7,355.3 L893.3,353.5 L893.8,352.4 L894.3,354.3 L894.7,354.3 L895.1,352.0 L895.6,351.8 L896.0,349.0 L896.5,341.7 L897.0,337.0 L897.4,335.0 L897.9,332.9 L898.3,327.7 L898.8,325.7 L899.2,319.5 L899.7,315.7 L900.2,316.8 L900.8,317.3 L901.3,318.3 L901.8,314.6 L902.3,309.0 L902.8,304.7 L903.3,298.3 L903.8,294.7 L904.3,289.6 L904.8,288.1 L905.3,283.7 L905.8,285.4 L906.2,288.7 L906.7,290.3 L907.1,284.6 L907.6,279.9 L908.0,272.3 L908.5,274.9 L909.0,274.8 L909.5,277.1 L910.0,278.3 L910.5,281.7 L911.0,281.1 L911.5,283.8 L912.0,285.0 L912.4,288.4 L912.9,290.6 L913.3,292.0 L913.7,293.7 L914.2,288.6 L914.8,284.8 L915.3,282.3 L915.8,276.8 L916.2,271.2 L916.7,265.0 L917.1,262.3 L917.6,254.3 L918.0,250.3 L918.4,256.6 L918.9,261.3 L919.3,265.7 L919.7,257.1 L920.0,251.1 L920.4,245.0 L920.9,245.8 L921.3,245.8 L921.8,246.8 L922.2,248.1 L922.7,248.3 L923.2,245.8 L923.6,245.3 L924.1,242.5 L924.5,240.9 L925.0,239.7 L925.4,238.4 L925.9,235.4 L926.3,234.4 L926.7,232.3 L927.2,236.1 L927.7,236.7 L928.2,238.7 L928.7,241.0 L929.1,247.5 L929.6,252.2 L930.0,258.3 L930.4,264.4 L930.7,268.3 L931.2,265.2 L931.7,265.3 L932.2,262.3 L932.7,261.0 L933.2,256.2 L933.7,254.8 L934.2,248.1 L934.7,245.0 L935.1,245.0 L935.6,242.1 L936.0,239.7 L936.4,238.5 L936.9,233.4 L937.3,231.7 L937.8,230.7 L938.2,228.7 L938.7,225.0 L939.0,215.0 L939.4,205.3 L939.9,204.3 L940.5,205.8 L941.0,202.7 L941.5,205.4 L942.0,207.3 L942.5,209.6 L943.0,212.7 L943.4,209.8 L943.9,206.4 L944.3,202.7 L944.8,201.9 L945.3,202.4 L945.8,199.4 L946.3,198.7 L946.7,196.8 L947.1,195.5 L947.6,190.6 L948.0,189.3 L948.5,185.0 L948.9,180.5 L949.4,173.3 L949.9,177.7 L950.5,183.8 L951.0,190.7 L951.4,186.5 L951.9,182.6 L952.3,181.3 L952.8,187.8 L953.3,193.3 L953.7,191.9 L954.2,194.7 L954.6,194.7 L955.0,209.5 L955.4,221.3 L955.7,224.4 L956.0,230.7 L956.5,225.3 L956.9,218.5 L957.4,215.3 L957.8,223.1 L958.3,229.3 L958.7,230.8 L959.1,233.5 L959.5,236.0 L959.9,242.0 L960.3,248.3 L960.7,253.7 L961.2,249.6 L961.6,246.1 L962.0,241.8 L962.5,238.5 L963.0,243.0 L963.5,246.1 L964.0,251.7 L964.4,259.8 L964.7,267.7 L965.2,262.6 L965.8,260.9 L966.3,258.3 L966.7,263.9 L967.1,265.7 L967.6,268.1 L968.0,273.0 L968.5,268.6 L969.0,263.7 L969.4,270.9 L969.9,278.4 L970.3,288.3 L970.7,284.7 L971.1,283.4 L971.6,280.2 L972.0,277.0 L972.4,276.2 L972.9,274.7 L973.3,275.0 L973.8,276.6 L974.2,281.7 L974.7,283.0 L975.1,277.2 L975.6,270.0 L976.0,265.0 L976.5,260.9 L977.0,259.6 L977.5,261.2 L978.0,257.0 L978.5,253.7 L979.0,252.6 L979.5,250.7 L980.0,248.3 L980.4,247.1 L980.9,246.0 L981.3,243.9 L981.7,244.3 L982.2,241.7 L982.8,242.9 L983.3,239.7 L983.8,244.3 L984.2,251.2 L984.7,255.7 L985.2,256.7 L985.7,260.7 L986.2,263.9 L986.7,266.3 L987.1,269.8 L987.6,270.1 L988.0,273.7 L988.5,272.4 L989.0,270.4 L989.5,267.4 L990.0,266.3 L990.5,265.5 L991.0,262.8 L991.5,261.5 L992.0,261.0 L992.4,259.2 L992.9,255.2 L993.3,255.4 L993.7,253.7 L994.2,253.8 L994.8,254.4 L995.3,257.0 L995.7,250.6 L996.0,245.8 L996.4,239.0 L996.8,246.2 L997.3,254.3 L997.8,254.7 L998.2,251.4 L998.7,251.7 L999.1,244.6 L999.6,241.7 L1000.0,234.3 L1000.3,232.7 L1000.8,230.7 L1001.3,228.9 L1001.8,224.8 L1002.3,223.3 L1002.8,225.9 L1003.2,227.2 L1003.7,228.7 L1004.2,229.8 L1004.7,229.7 L1005.2,231.4 L1005.7,230.7 L1006.1,226.7 L1006.5,223.0 L1007.0,219.2 L1007.4,217.3 L1007.9,214.9 L1008.5,209.5 L1009.0,206.7 L1009.5,204.3 L1010.0,203.1 L1010.5,202.2 L1011.0,201.3 L1011.4,204.0 L1011.9,209.0 L1012.3,213.3 L1012.8,219.8 L1013.2,227.0 L1013.7,234.7 L1014.2,229.4 L1014.7,226.0 L1015.2,221.2 L1015.7,217.3 L1016.1,221.0 L1016.6,224.7 L1017.0,228.0 L1017.4,222.6 L1017.9,214.3 L1018.3,210.7 L1018.8,211.9 L1019.2,213.4 L1019.7,216.0 L1020.1,211.4 L1020.6,203.8 L1021.0,200.0 L1021.5,197.8 L1022.0,196.7 L1022.5,195.2 L1023.0,194.0 L1023.5,195.8 L1024.0,195.2 L1024.5,197.4 L1025.0,197.3 L1025.5,193.2 L1026.0,190.2 L1026.5,190.6 L1027.0,186.7 L1027.5,187.8 L1028.0,188.5 L1028.5,188.8 L1029.0,189.3 L1029.5,188.1 L1030.0,184.8 L1030.5,185.3 L1031.0,182.7 L1031.4,180.5 L1031.8,180.3 L1032.3,177.8 L1032.7,176.0 L1033.2,174.8 L1033.6,176.3 L1034.1,179.5 L1034.5,179.1 L1035.0,180.0 L1035.5,178.3 L1036.0,177.6 L1036.5,175.6 L1037.0,174.7 L1037.5,174.5 L1038.0,175.5 L1038.5,175.8 L1039.0,176.0 L1039.5,174.2 L1040.1,169.4 L1040.6,166.0 L1041.1,167.7 L1041.6,167.5 L1042.0,167.3 L1042.5,166.5 L1043.0,165.3 L1043.5,170.1 L1044.0,174.7 L1044.4,175.8 L1044.8,176.6 L1045.3,177.0 L1045.7,178.7 L1046.2,181.0 L1046.7,182.7 L1047.2,187.3 L1047.7,188.0 L1048.2,190.5 L1048.7,191.6 L1049.2,192.1 L1049.7,196.0 L1050.1,199.5 L1050.6,202.7 L1051.0,206.7 L1051.4,208.7 L1051.9,211.8 L1052.3,216.0 L1052.7,211.6 L1053.0,212.1 L1053.4,209.3 L1053.8,213.2 L1054.3,219.5 L1054.7,221.3 L1055.2,214.0 L1055.7,206.7 L1056.1,204.6 L1056.6,204.1 L1057.0,200.8 L1057.4,198.7 L1057.9,195.7 L1058.5,192.1 L1059.0,189.3 L1059.5,186.7 L1060.1,186.8 L1060.6,183.3 L1061.1,187.0 L1061.5,190.3 L1062.0,191.3 L1062.4,188.1 L1062.9,185.6 L1063.3,182.7 L1063.7,179.3 L1064.2,178.7 L1064.6,173.8 L1065.0,172.7 L1065.5,172.9 L1066.0,173.1 L1066.5,173.1 L1067.0,171.3 L1067.5,170.5 L1068.0,172.7 L1068.5,171.1 L1069.0,172.0 L1069.4,173.9 L1069.9,176.0 L1070.3,180.0 L1070.7,184.5 L1071.0,188.3 L1071.4,190.0 L1071.8,185.6 L1072.2,181.7 L1072.6,178.7 L1073.0,175.0 L1073.3,174.2 L1073.7,168.7 L1074.2,169.2 L1074.7,167.2 L1075.2,165.4 L1075.7,166.7 L1076.2,165.9 L1076.7,167.5 L1077.2,168.0 L1077.7,166.0 L1078.2,163.7 L1078.8,161.3 L1079.3,160.0 L1079.7,157.3 L1080.2,153.8 L1080.6,154.4 L1081.0,151.3 L1081.5,148.6 L1082.1,149.2 L1082.6,146.5 L1082.9,137.3 L1083.3,131.5 L1083.7,134.7 L1084.1,140.8 L1084.5,145.0 L1085.0,151.1 L1085.6,158.7 L1086.0,152.6 L1086.5,145.0 L1087.0,143.8 L1087.5,141.3 L1088.0,141.9 L1088.5,140.0 L1089.0,139.9 L1089.4,136.3 L1089.9,139.1 L1090.4,136.8 L1090.8,136.2 L1091.3,134.5 L1091.7,135.0 L1092.2,138.6 L1092.6,141.4 L1093.1,145.2 L1093.5,146.5 L1094.0,142.2 L1094.5,139.9 L1095.0,138.0 L1095.4,133.6 L1095.8,133.0 L1096.3,131.2 L1096.7,128.5" fill="none" stroke="#fff" stroke-width="2.7" stroke-linejoin="round" stroke-linecap="round"/>
<circle cx="1096.7" cy="128.5" r="20.8" fill="rgba(232,30,62,0.46)" stroke="#ea2348" stroke-width="3" stroke-dasharray="10 4.3"/>
<line x1="0" y1="595.5" x2="1122" y2="595.5" stroke="#fff" stroke-width="1.3"/>
<line x1="1121" y1="87" x2="1121" y2="596.1" stroke="#fff" stroke-width="2"/>
<g stroke="#e6e6e6" stroke-width="1" shape-rendering="crispEdges">
<line x1="88.5" y1="595.5" x2="88.5" y2="646.5"/>
<line x1="176.5" y1="595.5" x2="176.5" y2="646.5"/>
<line x1="264.5" y1="595.5" x2="264.5" y2="646.5"/>
<line x1="351.5" y1="595.5" x2="351.5" y2="646.5"/>
<line x1="439.5" y1="595.5" x2="439.5" y2="646.5"/>
<line x1="527.5" y1="595.5" x2="527.5" y2="646.5"/>
<line x1="615.5" y1="595.5" x2="615.5" y2="646.5"/>
<line x1="703.5" y1="595.5" x2="703.5" y2="646.5"/>
<line x1="791.5" y1="595.5" x2="791.5" y2="646.5"/>
<line x1="879.5" y1="595.5" x2="879.5" y2="646.5"/>
<line x1="966.5" y1="595.5" x2="966.5" y2="646.5"/>
<line x1="1054.5" y1="595.5" x2="1054.5" y2="646.5"/>
</g>
<text class="num" x="19.91" y="641.90" textLength="48.30" lengthAdjust="spacingAndGlyphs">2012</text>
<text class="num" x="107.79" y="641.90" textLength="48.30" lengthAdjust="spacingAndGlyphs">2013</text>
<text class="num" x="195.63" y="641.90" textLength="48.30" lengthAdjust="spacingAndGlyphs">2014</text>
<text class="num" x="283.27" y="641.90" textLength="48.30" lengthAdjust="spacingAndGlyphs">2015</text>
<text class="num" x="370.79" y="641.90" textLength="48.30" lengthAdjust="spacingAndGlyphs">2016</text>
<text class="num" x="458.86" y="641.90" textLength="48.30" lengthAdjust="spacingAndGlyphs">2017</text>
<text class="num" x="546.78" y="641.90" textLength="48.30" lengthAdjust="spacingAndGlyphs">2018</text>
<text class="num" x="634.82" y="641.90" textLength="48.30" lengthAdjust="spacingAndGlyphs">2019</text>
<text class="num" x="722.74" y="641.90" textLength="48.30" lengthAdjust="spacingAndGlyphs">2020</text>
<text class="num" x="810.85" y="641.90" textLength="48.30" lengthAdjust="spacingAndGlyphs">2021</text>
<text class="num" x="898.36" y="641.90" textLength="48.30" lengthAdjust="spacingAndGlyphs">2022</text>
<text class="num" x="985.79" y="641.90" textLength="48.30" lengthAdjust="spacingAndGlyphs">2023</text>
<text class="num" x="1062.88" y="641.90" textLength="48.30" lengthAdjust="spacingAndGlyphs">2024</text>
<path d="M1121,582.7 L1128.4,585.5 L1121,588.3 Z" fill="#fff"/>
<text class="num" x="1130.05" y="593.20" textLength="24.15" lengthAdjust="spacingAndGlyphs">70</text>
<path d="M1121,530.7 L1128.4,533.5 L1121,536.3 Z" fill="#fff"/>
<text class="num" x="1130.05" y="541.20" textLength="24.15" lengthAdjust="spacingAndGlyphs">80</text>
<path d="M1121,479.7 L1128.4,482.5 L1121,485.3 Z" fill="#fff"/>
<text class="num" x="1130.05" y="490.20" textLength="24.15" lengthAdjust="spacingAndGlyphs">90</text>
<path d="M1121,428.7 L1128.4,431.5 L1121,434.3 Z" fill="#fff"/>
<text class="num" x="1130.05" y="439.20" textLength="36.23" lengthAdjust="spacingAndGlyphs">100</text>
<path d="M1121,376.7 L1128.4,379.5 L1121,382.3 Z" fill="#fff"/>
<text class="num" x="1130.05" y="387.20" textLength="34.61" lengthAdjust="spacingAndGlyphs">110</text>
<path d="M1121,325.7 L1128.4,328.5 L1121,331.3 Z" fill="#fff"/>
<text class="num" x="1130.05" y="336.20" textLength="36.23" lengthAdjust="spacingAndGlyphs">120</text>
<path d="M1121,274.7 L1128.4,277.5 L1121,280.3 Z" fill="#fff"/>
<text class="num" x="1130.05" y="285.20" textLength="36.23" lengthAdjust="spacingAndGlyphs">130</text>
<path d="M1121,222.7 L1128.4,225.5 L1121,228.3 Z" fill="#fff"/>
<text class="num" x="1130.05" y="233.20" textLength="36.23" lengthAdjust="spacingAndGlyphs">140</text>
<path d="M1121,171.7 L1128.4,174.5 L1121,177.3 Z" fill="#fff"/>
<text class="num" x="1130.05" y="182.20" textLength="36.23" lengthAdjust="spacingAndGlyphs">150</text>
<path d="M1121,120.7 L1128.4,123.5 L1121,126.3 Z" fill="#fff"/>
<text class="num" x="1130.05" y="131.20" textLength="36.23" lengthAdjust="spacingAndGlyphs">160</text>
<g stroke="#fff" stroke-width="1.2">
<line x1="1121" y1="559.5" x2="1125" y2="559.5"/>
<line x1="1121" y1="507.5" x2="1125" y2="507.5"/>
<line x1="1121" y1="456.5" x2="1125" y2="456.5"/>
<line x1="1121" y1="405.5" x2="1125" y2="405.5"/>
<line x1="1121" y1="353.5" x2="1125" y2="353.5"/>
<line x1="1121" y1="302.5" x2="1125" y2="302.5"/>
<line x1="1121" y1="251.5" x2="1125" y2="251.5"/>
<line x1="1121" y1="199.5" x2="1125" y2="199.5"/>
<line x1="1121" y1="148.5" x2="1125" y2="148.5"/>
<line x1="1121" y1="97.5" x2="1125" y2="97.5"/>
</g>
<text class="ytitle" transform="translate(1175.9,257.40) rotate(90)" textLength="168.68" lengthAdjust="spacingAndGlyphs">Yen per dollar</text>
<text class="src" y="667.7"><tspan x="4.53" textLength="75.76" lengthAdjust="spacingAndGlyphs">Source:</tspan> <tspan x="87.63" textLength="104.61" lengthAdjust="spacingAndGlyphs">Bloomberg</tspan></text>
<text class="logo" x="1047.26" y="667.2" textLength="121.69" lengthAdjust="spacingAndGlyphs">Bloomberg</text>
<path d="M1180.3,649 h14 a1.8,1.8 0 0 1 1.8,1.8 v14.2 a1.8,1.8 0 0 1 -1.8,1.8 h-4.2 l-2.7,3.4 l-2.7,-3.4 h-4.4 a1.8,1.8 0 0 1 -1.8,-1.8 v-14.2 a1.8,1.8 0 0 1 1.8,-1.8 z" fill="#fff"/>
<g fill="#000"><rect x="1181.1" y="659.1" width="1.8" height="3.8"/><rect x="1184.8" y="656.2" width="1.7" height="6.7"/><rect x="1188.2" y="654.1" width="1.7" height="8.8"/><rect x="1191.7" y="659.1" width="1.6" height="3.8"/></g>
</svg>
</body></html>
